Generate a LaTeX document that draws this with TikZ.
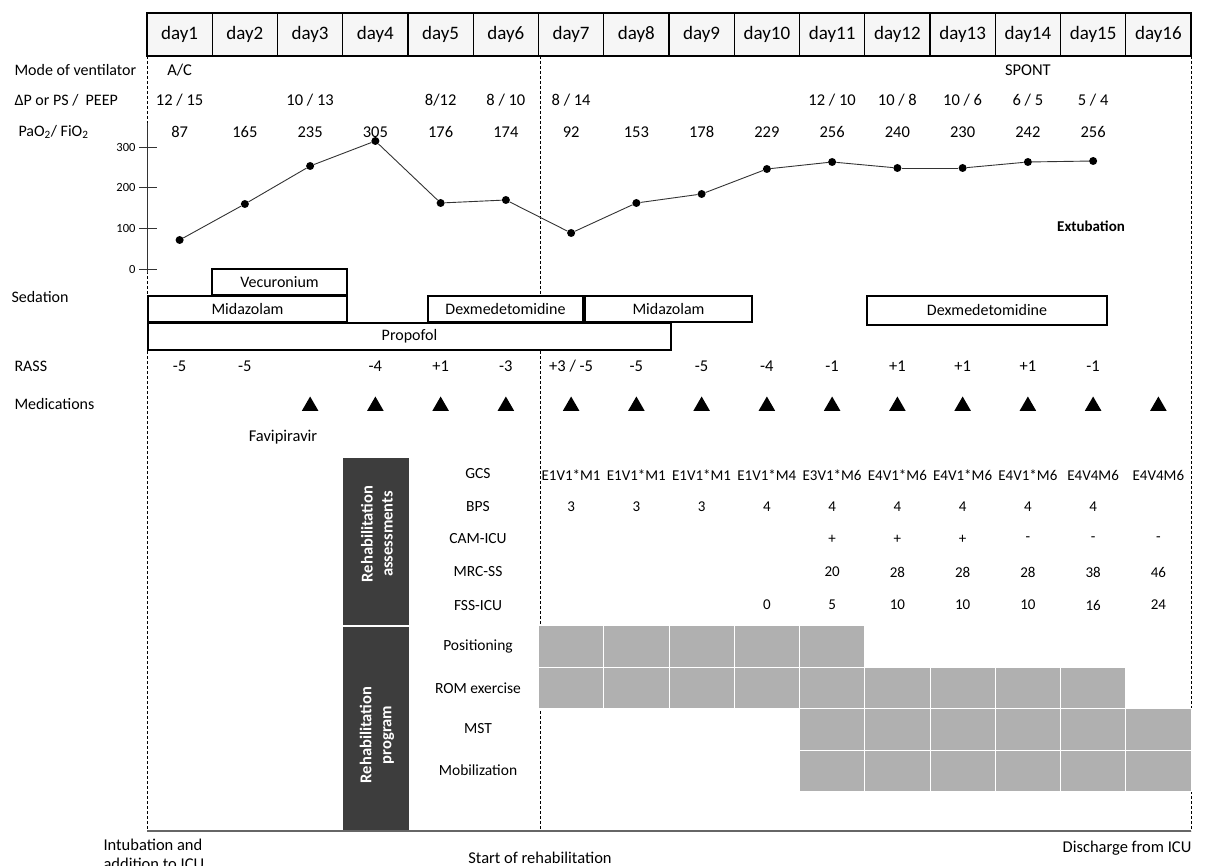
\documentclass[tikz,border=0pt]{standalone}
\usepackage{fontspec}
\setmainfont{Carlito}
\usetikzlibrary{shapes.geometric}
\begin{document}
\begin{tikzpicture}[x=1pt,y=-1pt,
  lab/.style={anchor=west,font=\fontsize{16}{19}\selectfont},
  val/.style={font=\fontsize{16.5}{19}\selectfont},
  small/.style={font=\fontsize{15}{18}\selectfont},
  tick/.style={anchor=east,font=\fontsize{12.5}{15}\selectfont},
  daycell/.style={draw,line width=1.4pt,fill=gray!7,minimum width=65.25pt,minimum height=43pt,inner sep=0pt,font=\fontsize{19}{22}\selectfont},
  sedbox/.style={draw,line width=1.5pt,fill=white,inner sep=0pt,font=\fontsize{16}{19}\selectfont},
  vline/.style={dash pattern=on 3pt off 2pt,line width=1pt},
  dot/.style={circle,fill=black,inner sep=0pt,minimum size=8pt},
  plotline/.style={line width=0.9pt,black!80},
  tri/.style={regular polygon,regular polygon sides=3,fill=black,inner sep=0pt,minimum size=19pt},
  darkbox/.style={fill=black!76},
  darktext/.style={rotate=90,text=white,align=center,font=\bfseries\fontsize{16.5}{20}\selectfont},
  rehab/.style={fill=gray!62,draw=white,line width=0.7pt},
  rowlab/.style={font=\fontsize{15.5}{18}\selectfont}
]
\useasboundingbox (0,0) rectangle (1209,866);

% vertical time markers
\coordinate (l0) at (147,56);   \coordinate (l1) at (147,831);
\coordinate (m0) at (540,56);   \coordinate (m1) at (540,831);
\coordinate (r0) at (1191,56);  \coordinate (r1) at (1191,831);
\draw[vline] (l0) -- (l1);
\draw[vline] (m0) -- (m1);
\draw[vline] (r0) -- (r1);

% day header
\foreach \i [evaluate=\i as \cx using 147+65.25*(\i-0.5)] in {1,...,16}
  \node[daycell] (day\i) at (\cx,34.5) {day\i};

% left-hand row labels
\node[lab] (lmode) at (11,70) {Mode of ventilator};
\node[lab] (ldp) at (11,100) {ΔP or PS /\ \ PEEP};
\node[lab] (lpf) at (15,132) {PaO\textsubscript{2}/ FiO\textsubscript{2}};
\node[lab] (lsed) at (8,297) {Sedation};
\node[lab] (lrass) at (11,366) {RASS};
\node[lab] (lmed) at (11,404) {Medications};

% ventilator mode
\node[val] (vac) at ({147+65.25*0.5},70) {A/C};
\node[val] (vsp) at ({147+65.25*13.5},70) {SPONT};

% driving pressure / PEEP
\foreach \d/\v in {1/{12 / 15},3/{10 / 13},5/{8/12},6/{8 / 10},7/{8 / 14},11/{12 / 10},12/{10 / 8},13/{10 / 6},14/{6 / 5},15/{5 / 4}}
  \node[val] (dp\d) at ({147+65.25*(\d-0.5)},100) {\v};

% PaO2/FiO2 values
\foreach \d/\v in {1/87,2/165,3/235,4/305,5/176,6/174,7/92,8/153,9/178,10/229,11/256,12/240,13/230,14/242,15/256}
  \node[val] (pf\d) at ({147+65.25*(\d-0.5)},132) {\v};

% axis of the P/F chart
\coordinate (ax0) at (147,123); \coordinate (ax1) at (147,273);
\draw[line width=1pt,black!80] (ax0) -- (ax1);
\foreach \t/\y in {300/147,200/187,100/228,0/269}{
  \coordinate (tk\t a) at (139,\y); \coordinate (tk\t b) at (157,\y);
  \draw[line width=0.9pt,black!80] (tk\t a) -- (tk\t b);
  \node[tick] (tl\t) at (tk\t a) {\t};
}

% P/F curve
\foreach \d/\y in {1/240,2/204,3/166,4/141,5/203,6/200,7/233,8/203,9/194,10/169,11/162,12/168,13/168,14/162,15/161}
  \node[dot] (p\d) at ({147+65.25*(\d-0.5)},\y) {};
\foreach \d [evaluate=\d as \n using int(\d+1)] in {1,...,14}
  \draw[plotline] (p\d) -- (p\n);
\node[font=\bfseries\fontsize{15}{18}\selectfont] (ext) at (1091,226) {Extubation};

% sedation bars
\node[sedbox,minimum width=523pt,minimum height=27pt] (prop) at (409.5,336.5) {Propofol};
\node[sedbox,minimum width=199pt,minimum height=26pt] (mid1) at (247.5,309) {Midazolam};
\node[sedbox,minimum width=135pt,minimum height=26pt] (vec) at (279.5,282) {Vecuronium};
\node[sedbox,minimum width=155pt,minimum height=26pt] (dex1) at (505.5,309) {Dexmedetomidine};
\node[sedbox,minimum width=167pt,minimum height=26pt] (mid2) at (668.5,309) {Midazolam};
\node[sedbox,minimum width=240pt,minimum height=29pt] (dex2) at (987,310.5) {Dexmedetomidine};

% RASS
\foreach \d/\v in {1/-5,2/-5,4/-4,5/+1,6/-3,7/{+3 / -5},8/-5,9/-5,10/-4,11/-1,12/+1,13/+1,14/+1,15/-1}
  \node[val] (ra\d) at ({147+65.25*(\d-0.5)},366) {\v};

% medications
\foreach \d in {3,...,16}
  \node[tri] (md\d) at ({147+65.25*(\d-0.5)},406) {};
\node[val] (fav) at (283,437) {Favipiravir};

% rehabilitation side panels
\fill[darkbox] (343,458) rectangle (409,624.5);
\fill[darkbox] (343,627) rectangle (409,831);
\node[darktext] (tass) at (377,534) {Rehabilitation\\assessments};
\node[darktext] (tprog) at (377,735) {Rehabilitation\\program};

% assessment labels
\foreach \n/\t/\y in {g/GCS/474,b/BPS/507,c/CAM-ICU/539,m/MRC-SS/572,f/FSS-ICU/606}
  \node[rowlab] (a\n) at (478,\y) {\t};

% GCS
\foreach \d/\v in {7/E1V1*M1,8/E1V1*M1,9/E1V1*M1,10/E1V1*M4,11/E3V1*M6,12/E4V1*M6,13/E4V1*M6,14/E4V1*M6,15/E4V4M6,16/E4V4M6}
  \node[small,inner sep=0pt] (gcs\d) at ({147+65.25*(\d-0.5)},475) {\v};
% BPS
\foreach \d/\v in {7/3,8/3,9/3,10/4,11/4,12/4,13/4,14/4,15/4}
  \node[small] (bps\d) at ({147+65.25*(\d-0.5)},507) {\v};
% CAM-ICU
\foreach \d/\v in {11/+,12/+,13/+,14/-,15/-,16/-}
  \node[small] (cam\d) at ({147+65.25*(\d-0.5)},539) {\v};
% MRC-SS
\foreach \d/\v in {11/20,12/28,13/28,14/28,15/38,16/46}
  \node[small] (mrc\d) at ({147+65.25*(\d-0.5)},572) {\v};
% FSS-ICU
\foreach \d/\v in {10/0,11/5,12/10,13/10,14/10,15/16,16/24}
  \node[small] (fss\d) at ({147+65.25*(\d-0.5)},605) {\v};

% rehabilitation programme blocks
\foreach \d in {7,...,11}
  \draw[rehab] ({147+65.25*(\d-1)},625) rectangle ({147+65.25*\d},667);
\foreach \d in {7,...,15}
  \draw[rehab] ({147+65.25*(\d-1)},667) rectangle ({147+65.25*\d},708);
\foreach \d in {11,...,16}{
  \draw[rehab] ({147+65.25*(\d-1)},708) rectangle ({147+65.25*\d},750);
  \draw[rehab] ({147+65.25*(\d-1)},750) rectangle ({147+65.25*\d},791);
}
\foreach \n/\t/\y in {pos/Positioning/646,rom/ROM exercise/688,mst/MST/729,mob/Mobilization/770}
  \node[rowlab] (\n) at (478,\y) {\t};

% baseline
\coordinate (b0) at (147,831); \coordinate (b1) at (1191,831);
\draw[line width=1.2pt,black!60] (b0) -- (b1);

% events
\node[val,anchor=north west,align=left] (intub) at (100,836) {Intubation and\\addition to ICU};
\node[val] (srehab) at (540,858) {Start of rehabilitation};
\node[val] (disch) at (1127,848) {Discharge from ICU};
\end{tikzpicture}
\end{document}
